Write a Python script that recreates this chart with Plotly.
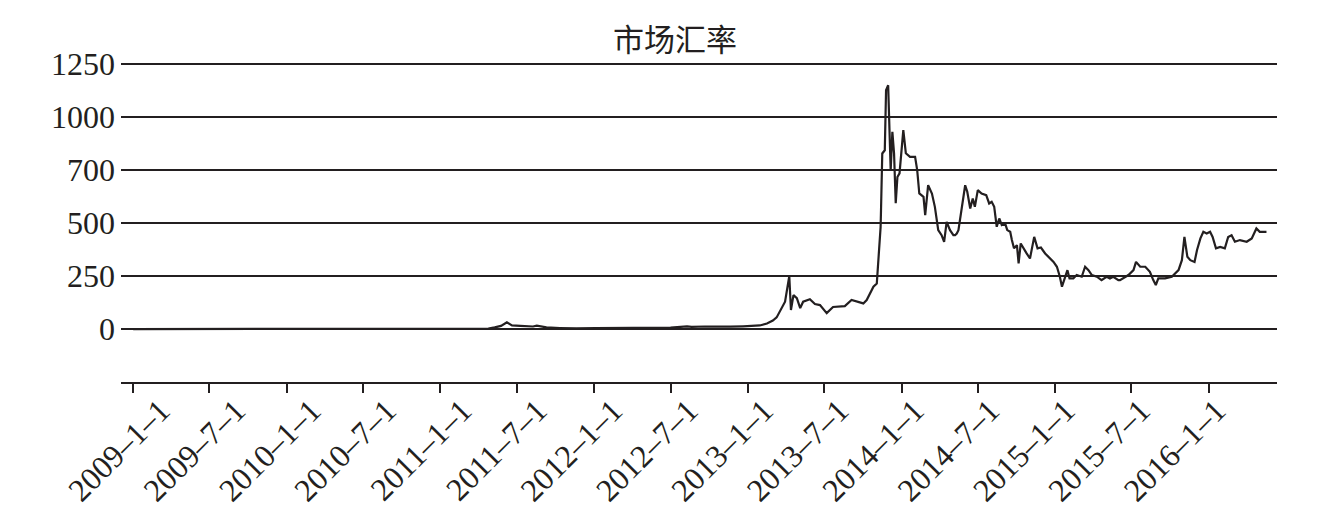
import plotly.graph_objects as go

# ---- data ----
dates = [
    "2009-01-01", "2009-07-01", "2010-01-01", "2010-07-17", "2010-11-06", "2011-01-01",
    "2011-02-10", "2011-04-01", "2011-04-25", "2011-05-10", "2011-05-25", "2011-06-08",
    "2011-06-20", "2011-07-10", "2011-08-09", "2011-08-18", "2011-09-10", "2011-10-12",
    "2011-11-20", "2012-01-05", "2012-03-01", "2012-05-01", "2012-07-01", "2012-08-09",
    "2012-08-20", "2012-09-20", "2012-10-20", "2012-11-20", "2012-12-20", "2013-01-15",
    "2013-01-29", "2013-02-15", "2013-03-01", "2013-03-10", "2013-03-18", "2013-03-30",
    "2013-04-09", "2013-04-13", "2013-04-19", "2013-04-27", "2013-05-05", "2013-05-12",
    "2013-05-28", "2013-06-09", "2013-06-21", "2013-07-07", "2013-07-22", "2013-08-08",
    "2013-08-19", "2013-09-04", "2013-09-16", "2013-10-02", "2013-10-10", "2013-10-18",
    "2013-10-26", "2013-11-03", "2013-11-07", "2013-11-09", "2013-11-12", "2013-11-13",
    "2013-11-16", "2013-11-22", "2013-11-25", "2013-11-30", "2013-12-03", "2013-12-06",
    "2013-12-10", "2013-12-14", "2013-12-18", "2013-12-22", "2013-12-27", "2014-01-05",
    "2014-01-11", "2014-01-21", "2014-02-02", "2014-02-07", "2014-02-12", "2014-02-22",
    "2014-02-26", "2014-03-05", "2014-03-14", "2014-03-21", "2014-03-29", "2014-04-06",
    "2014-04-12", "2014-04-18", "2014-04-26", "2014-05-04", "2014-05-08", "2014-05-12",
    "2014-05-16", "2014-05-22", "2014-05-26", "2014-06-01", "2014-06-06", "2014-06-13",
    "2014-06-19", "2014-06-24", "2014-07-01", "2014-07-10", "2014-07-21", "2014-07-28",
    "2014-08-03", "2014-08-09", "2014-08-15", "2014-08-21", "2014-08-27", "2014-09-04",
    "2014-09-09", "2014-09-16", "2014-09-20", "2014-09-25", "2014-10-02", "2014-10-06",
    "2014-10-11", "2014-10-17", "2014-10-25", "2014-11-02", "2014-11-12", "2014-11-20",
    "2014-11-28", "2014-12-08", "2014-12-20", "2014-12-28", "2015-01-05", "2015-01-12",
    "2015-01-17", "2015-01-24", "2015-01-30", "2015-02-04", "2015-02-13", "2015-02-21",
    "2015-03-05", "2015-03-13", "2015-03-21", "2015-03-29", "2015-04-10", "2015-04-21",
    "2015-05-03", "2015-05-11", "2015-05-19", "2015-05-31", "2015-06-04", "2015-06-24",
    "2015-07-06", "2015-07-12", "2015-07-22", "2015-08-03", "2015-08-14", "2015-08-22",
    "2015-08-28", "2015-09-03", "2015-09-19", "2015-10-05", "2015-10-21", "2015-10-29",
    "2015-11-04", "2015-11-11", "2015-11-18", "2015-11-28", "2015-12-04", "2015-12-12",
    "2015-12-19", "2015-12-27", "2016-01-04", "2016-01-10", "2016-01-18", "2016-01-28",
    "2016-02-08", "2016-02-16", "2016-02-24", "2016-03-03", "2016-03-15", "2016-03-31",
    "2016-04-12", "2016-04-23", "2016-05-01", "2016-05-17",
]
rates = [
    0, 0, 0, 0.05, 0.4, 0.3,
    1.0, 0.8, 1.8, 8, 15, 32,
    17, 15, 12, 16, 8, 5,
    3, 5, 5, 5, 7, 13,
    10, 12, 11, 11, 13, 14,
    17, 26, 40, 55, 82, 129,
    250, 90, 160, 146, 99, 129,
    141, 118, 113, 75, 104, 105,
    108, 137, 129, 121, 137, 170,
    200, 215, 325, 365, 480, 561,
    829, 844, 1127, 1151, 954, 750,
    931, 830, 594, 718, 735, 939,
    830, 813, 813, 750, 640, 624,
    538, 679, 640, 577, 467, 443,
    412, 506, 467, 443, 443, 451,
    467, 547, 593, 679, 648, 569,
    616, 577, 656, 640, 632, 593,
    601, 577, 483, 522, 491, 498,
    467, 459, 420, 381, 396, 310,
    404, 381, 357, 333, 435, 381,
    385, 357, 333, 317, 294, 247,
    200, 247, 278, 239, 239, 255,
    247, 294, 278, 255, 247, 231,
    247, 239, 247, 231, 231, 255,
    278, 317, 294, 294, 270, 231,
    208, 239, 239, 247, 278, 325,
    435, 341, 325, 317, 373, 428,
    459, 451, 459, 435, 381, 388,
    381, 435, 443, 412, 420, 412,
    428, 475, 459, 459,
]

tick_dates = ["2009-01-01", "2009-07-01", "2010-01-01", "2010-07-01", "2011-01-01",
              "2011-07-01", "2012-01-01", "2012-07-01", "2013-01-01", "2013-07-01",
              "2014-01-01", "2014-07-01", "2015-01-01", "2015-07-01", "2016-01-01"]
tick_labels = ["2009–1–1", "2009–7–1", "2010–1–1", "2010–7–1", "2011–1–1",
               "2011–7–1", "2012–1–1", "2012–7–1", "2013–1–1", "2013–7–1",
               "2014–1–1", "2014–7–1", "2015–1–1", "2015–7–1", "2016–1–1"]
y_ticks = [0, 250, 500, 750, 1000, 1250]
y_labels = ["0", "250", "500", "700", "1000", "1250"]
title_text = "市场汇率"

INK = "#231f20"
SERIF = "Liberation Serif, Times New Roman, serif"
label_slots = list(range(len(tick_labels)))  # labels sit in evenly spaced slots

fig = go.Figure()
fig.add_trace(go.Scatter(x=dates, y=rates, mode="lines",
                         line=dict(color=INK, width=2.2), showlegend=False))
# invisible carrier for the evenly spaced label axis
fig.add_trace(go.Scatter(x=label_slots, y=[None] * len(label_slots), xaxis="x2",
                         mode="lines", showlegend=False, hoverinfo="skip"))

# the page body adds an 8 px offset, compensated in the margins
fig.update_layout(
    width=1318, height=532,
    margin=dict(l=113, r=49, t=55, b=158, autoexpand=False),
    paper_bgcolor="white", plot_bgcolor="white",
    title=dict(text=title_text, x=667 / 1318, xanchor="center",
               y=1 - 32 / 532, yanchor="middle",
               font=dict(family="Noto Sans CJK SC", size=31, color=INK)),
    font=dict(family=SERIF, color=INK),
    xaxis=dict(
        type="date", range=["2008-12-03", "2016-06-11"], automargin=False,
        tickmode="array", tickvals=tick_dates, showticklabels=False,
        showline=True, linecolor=INK, linewidth=2,
        ticks="outside", ticklen=9, tickwidth=1.5, tickcolor=INK,
        showgrid=False, zeroline=False,
    ),
    xaxis2=dict(overlaying="x", anchor="y", side="bottom", range=[-0.525, 14.806],
                automargin=False, tickmode="array", tickvals=label_slots,
                ticktext=tick_labels, tickangle=-45,
                tickfont=dict(family=SERIF, size=32, color=INK),
                ticklabelstandoff=-13,
                ticks="outside", ticklen=9, tickcolor="rgba(0,0,0,0)",
                showline=False, showgrid=False, zeroline=False),
    yaxis=dict(
        range=[-250, 1256], automargin=False,
        tickmode="array", tickvals=y_ticks, ticktext=y_labels,
        tickfont=dict(family=SERIF, size=32, color=INK), ticklabelstandoff=5,
        showgrid=True, gridcolor=INK, gridwidth=2, zeroline=False,
        showline=False, ticks="",
    ),
)

fig.write_html("out.html")
